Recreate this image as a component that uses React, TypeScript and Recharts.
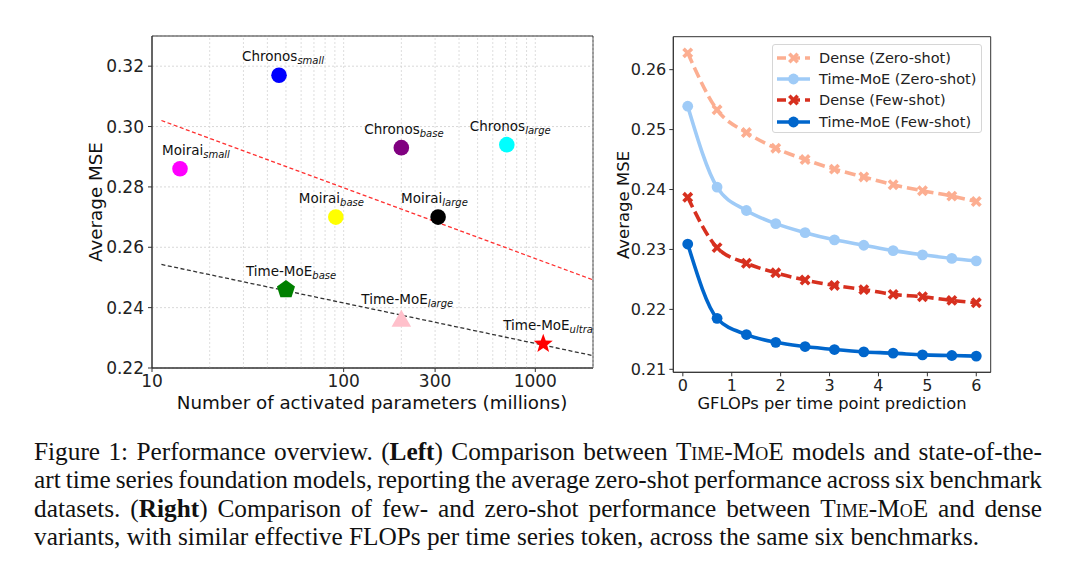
import React from 'react'
import {
  ComposedChart,
  LineChart,
  Line,
  Scatter,
  XAxis,
  YAxis,
  CartesianGrid,
  ReferenceLine,
  ReferenceArea,
} from 'recharts'

const FONT = '"DejaVu Sans", Verdana, sans-serif'

// left panel: zero-shot MSE vs activated parameters
const modelFamilies = ['Moirai', 'Chronos', 'Chronos', 'Chronos', 'Moirai', 'Moirai', 'Time-MoE', 'Time-MoE', 'Time-MoE']
const modelSizes = ['small', 'small', 'base', 'large', 'base', 'large', 'base', 'large', 'ultra']
const activatedParams = [14, 46, 200, 710, 91, 311, 50, 200, 1100]
const averageMse = [0.286, 0.317, 0.293, 0.294, 0.27, 0.27, 0.246, 0.2365, 0.228]
const markerColors = ['#ff00ff', '#0000ff', '#800080', '#00ffff', '#ffff00', '#000000', '#008000', '#ffc0cb', '#ff0000']
const markerShapes = ['circle', 'circle', 'circle', 'circle', 'circle', 'circle', 'pentagon', 'triangle', 'star']

const trendParams = [11.2, 2000]
const baselineTrend = [0.302, 0.2492]
const timeMoeTrend = [0.2543, 0.2241]

const leftXTicks = [10, 100, 300, 1000]
const leftYTicks = [0.22, 0.24, 0.26, 0.28, 0.3, 0.32]
const leftXGrid = [20, 30, 40, 50, 60, 70, 80, 90, 100, 200, 300, 400, 500, 600, 700, 800, 900, 1000, 2000]

// right panel: MSE vs GFLOPs
const gflops = [0.1, 0.7, 1.3, 1.9, 2.5, 3.1, 3.7, 4.3, 4.9, 5.5, 6.0]
const denseZeroShot = [0.2628, 0.2533, 0.2495, 0.2469, 0.245, 0.2434, 0.2421, 0.2408, 0.2398, 0.2389, 0.238]
const moeZeroShot = [0.2539, 0.2404, 0.2365, 0.2343, 0.2328, 0.2316, 0.2307, 0.2298, 0.2291, 0.2285, 0.2281]
const denseFewShot = [0.2387, 0.2303, 0.2277, 0.2261, 0.2249, 0.224, 0.2233, 0.2225, 0.2221, 0.2215, 0.2211]
const moeFewShot = [0.2309, 0.2185, 0.2158, 0.2145, 0.2138, 0.2133, 0.2129, 0.2127, 0.2124, 0.2123, 0.2122]

const rightXTicks = [0, 1, 2, 3, 4, 5, 6]
const rightYTicks = [0.21, 0.22, 0.23, 0.24, 0.25, 0.26]

const series = [
  { key: 'denseZero', name: 'Dense (Zero-shot)', color: '#fcae91', dashed: true },
  { key: 'moeZero', name: 'Time-MoE (Zero-shot)', color: '#9fcbf7', dashed: false },
  { key: 'denseFew', name: 'Dense (Few-shot)', color: '#d7301f', dashed: true },
  { key: 'moeFew', name: 'Time-MoE (Few-shot)', color: '#0066cc', dashed: false },
]

const scatterData = activatedParams.map((p, i) => ({
  params: p,
  mse: averageMse[i],
  family: modelFamilies[i],
  size: modelSizes[i],
  color: markerColors[i],
  shape: markerShapes[i],
}))

const baselineLine = trendParams.map((p, i) => ({ params: p, mse: baselineTrend[i] }))
const timeMoeLine = trendParams.map((p, i) => ({ params: p, mse: timeMoeTrend[i] }))

const flopsData = gflops.map((g, i) => ({
  g,
  denseZero: denseZeroShot[i],
  moeZero: moeZeroShot[i],
  denseFew: denseFewShot[i],
  moeFew: moeFewShot[i],
}))

function polygon(cx: number, cy: number, n: number, rOuter: number, rInner?: number) {
  const pts: string[] = []
  const count = rInner ? n * 2 : n
  for (let k = 0; k < count; k++) {
    const r = rInner && k % 2 === 1 ? rInner : rOuter
    const a = -Math.PI / 2 + (k * 2 * Math.PI) / count
    pts.push(`${cx + r * Math.cos(a)},${cy + r * Math.sin(a)}`)
  }
  return pts.join(' ')
}

function ModelMarker(props: any) {
  const { cx, cy, payload } = props
  if (cx == null || cy == null) return null
  const dx = payload.family === 'Moirai' && payload.size === 'small' ? -18 : payload.family === 'Time-MoE' ? -40 : -37
  let mark: React.ReactNode
  if (payload.shape === 'circle') {
    mark = <circle cx={cx} cy={cy} r={7.8} fill={payload.color} />
  } else if (payload.shape === 'pentagon') {
    mark = <polygon points={polygon(cx, cy, 5, 9.5)} fill={payload.color} />
  } else if (payload.shape === 'triangle') {
    mark = (
      <polygon
        points={`${cx},${cy - 8.5} ${cx - 9.8},${cy + 8.5} ${cx + 9.8},${cy + 8.5}`}
        fill={payload.color}
      />
    )
  } else {
    mark = <polygon points={polygon(cx, cy, 5, 10, 4.2)} fill={payload.color} />
  }
  return (
    <g>
      {mark}
      <text x={cx + dx} y={cy - 14} fontFamily={FONT} fontSize={13.5} fill="#111">
        {payload.family}
        <tspan fontSize={10} fontStyle="italic" dy={3}>
          {payload.size}
        </tspan>
      </text>
    </g>
  )
}

function CrossDot(props: any) {
  const { cx, cy, stroke } = props
  if (cx == null || cy == null) return null
  const s = 4.2
  return (
    <path
      d={`M${cx - s},${cy - s}L${cx + s},${cy + s}M${cx + s},${cy - s}L${cx - s},${cy + s}`}
      stroke={stroke}
      strokeWidth={3.6}
      fill="none"
    />
  )
}

function RoundDot(props: any) {
  const { cx, cy, stroke } = props
  if (cx == null || cy == null) return null
  return <circle cx={cx} cy={cy} r={5.4} fill={stroke} />
}

const tickStyle = { fontFamily: FONT, fill: '#222' }

function AxisTitle({ x, y, size, rotate, children }: any) {
  return (
    <div
      style={{
        position: 'absolute',
        left: x,
        top: y,
        transform: `translate(-50%, -50%)${rotate ? ' rotate(-90deg)' : ''}`,
        fontFamily: FONT,
        fontSize: size,
        color: '#111',
        whiteSpace: 'nowrap',
      }}
    >
      {children}
    </div>
  )
}

const sc = { fontVariant: 'small-caps' as const }
const justified = { textAlign: 'justify' as const, textAlignLast: 'justify' as const, whiteSpace: 'nowrap' as const }

export default function App() {
  return (
    <div style={{ position: 'absolute', left: 0, top: 0, width: 1080, height: 563, background: '#fff', overflow: 'hidden' }}>
      <div style={{ position: 'absolute', left: 0, top: 0 }}>
        <ComposedChart width={600} height={420} margin={{ top: 36, right: 7, bottom: 22, left: 92 }}>
          <CartesianGrid vertical={false} stroke="#cfcfcf" strokeDasharray="2 2" strokeWidth={0.8} />
          {leftXGrid.map((v) => (
            <ReferenceLine key={v} x={v} stroke="#d4d4d4" strokeDasharray="2 2" strokeWidth={0.8} />
          ))}
          <XAxis
            dataKey="params"
            type="number"
            scale="log"
            domain={[10, 2000]}
            ticks={leftXTicks}
            height={30}
            tickSize={4}
            tickMargin={3}
            tick={{ ...tickStyle, fontSize: 17 }}
            stroke="#333"
          />
          <YAxis
            dataKey="mse"
            type="number"
            domain={[0.22, 0.33]}
            ticks={leftYTicks}
            width={60}
            tickSize={4}
            tickMargin={4}
            tickFormatter={(v: number) => v.toFixed(2)}
            tick={{ ...tickStyle, fontSize: 17 }}
            stroke="#333"
          />
          <ReferenceArea x1={10} x2={2000} y1={0.22} y2={0.33} fill="none" stroke="#333" strokeWidth={1} />
          <Line
            data={baselineLine}
            dataKey="mse"
            type="linear"
            stroke="#ff3030"
            strokeWidth={1.3}
            strokeDasharray="4 2.5"
            dot={false}
            isAnimationActive={false}
          />
          <Line
            data={timeMoeLine}
            dataKey="mse"
            type="linear"
            stroke="#333"
            strokeWidth={1.3}
            strokeDasharray="4 2.5"
            dot={false}
            isAnimationActive={false}
          />
          <Scatter data={scatterData} dataKey="mse" shape={ModelMarker} isAnimationActive={false} />
        </ComposedChart>
      </div>
      <AxisTitle x={95} y={202} size={18.3} rotate>
        Average MSE
      </AxisTitle>
      <AxisTitle x={372} y={402} size={18.3}>
        Number of activated parameters (millions)
      </AxisTitle>

      <div style={{ position: 'absolute', left: 600, top: 0 }}>
        <LineChart width={400} height={420} data={flopsData} margin={{ top: 36.7, right: 9.3, bottom: 17.7, left: 23.3 }}>
          <XAxis
            dataKey="g"
            type="number"
            domain={[-0.195, 6.295]}
            ticks={rightXTicks}
            height={30}
            tickSize={4}
            tickMargin={3}
            tick={{ ...tickStyle, fontSize: 16 }}
            stroke="#333"
          />
          <YAxis
            type="number"
            domain={[0.2095, 0.2655]}
            ticks={rightYTicks}
            width={50}
            tickSize={4}
            tickMargin={3}
            tickFormatter={(v: number) => v.toFixed(2)}
            tick={{ ...tickStyle, fontSize: 16 }}
            stroke="#333"
          />
          <ReferenceArea x1={-0.195} x2={6.295} y1={0.2095} y2={0.2655} fill="none" stroke="#333" strokeWidth={1} />
          {series.map((s) => (
            <Line
              key={s.key}
              dataKey={s.key}
              type="monotone"
              stroke={s.color}
              strokeWidth={3.6}
              strokeDasharray={s.dashed ? '11 5' : undefined}
              dot={s.dashed ? CrossDot : RoundDot}
              activeDot={false}
              isAnimationActive={false}
            />
          ))}
        </LineChart>
      </div>
      <AxisTitle x={623} y={205} size={16.5}>
        <div style={{ transform: 'rotate(-90deg)' }}>Average MSE</div>
      </AxisTitle>
      <AxisTitle x={832} y={403} size={16.3}>
        GFLOPs per time point prediction
      </AxisTitle>

      <div
        style={{
          position: 'absolute',
          left: 772,
          top: 44,
          width: 210,
          height: 89,
          boxSizing: 'border-box',
          border: '1px solid #d6d6d6',
          borderRadius: 3,
          background: 'rgba(255,255,255,0.85)',
          padding: '2px 0 0 3px',
          fontFamily: FONT,
          fontSize: 14.5,
          color: '#222',
        }}
      >
        {series.map((s) => (
          <div key={s.key} style={{ display: 'flex', alignItems: 'center', height: 21.3 }}>
            <svg width={36} height={14} style={{ marginRight: 7 }}>
              <line
                x1={1}
                y1={7}
                x2={34}
                y2={7}
                stroke={s.color}
                strokeWidth={3.6}
                strokeDasharray={s.dashed ? '9 5' : undefined}
              />
              {s.dashed ? <CrossDot cx={17.5} cy={7} stroke={s.color} /> : <RoundDot cx={17.5} cy={7} stroke={s.color} />}
            </svg>
            <span>{s.name}</span>
          </div>
        ))}
      </div>

      <div
        style={{
          position: 'absolute',
          left: 34,
          top: 437,
          width: 1008,
          fontFamily: '"Liberation Serif", "Times New Roman", serif',
          fontSize: 25.3,
          lineHeight: '28.3px',
          color: '#111',
        }}
      >
        <div style={{ ...justified, wordSpacing: -2 }}>
          Figure 1: Performance overview. (<b>Left</b>) Comparison between <span style={sc}>Time-MoE</span> models and
          state-of-the-
        </div>
        <div style={{ ...justified, wordSpacing: -4 }}>
          art time series foundation models, reporting the average zero-shot performance across six benchmark
        </div>
        <div style={{ ...justified, wordSpacing: -2 }}>
          datasets. (<b>Right</b>) Comparison of few- and zero-shot performance between <span style={sc}>Time-MoE</span>{' '}
          and dense
        </div>
        <div style={{ whiteSpace: 'nowrap' }}>
          variants, with similar effective FLOPs per time series token, across the same six benchmarks.
        </div>
      </div>
    </div>
  )
}
